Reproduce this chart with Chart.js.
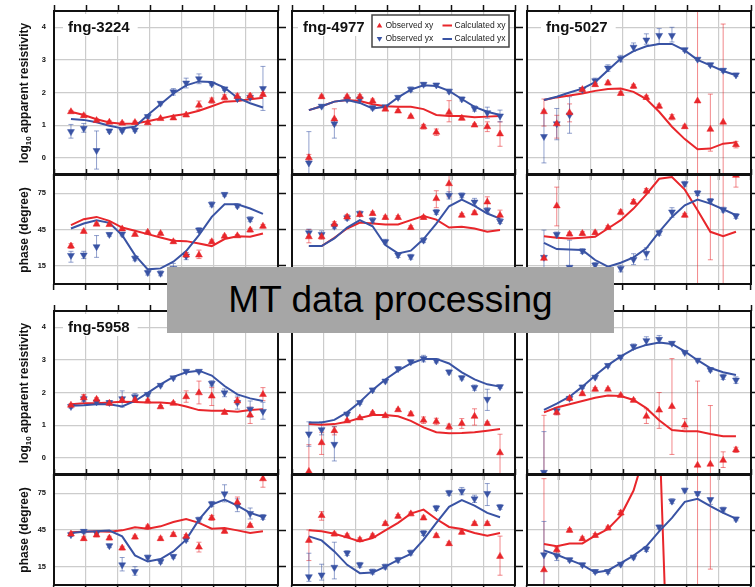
<!DOCTYPE html>
<html lang="en">
<head>
<meta charset="utf-8">
<title>MT data processing</title>
<script src="https://cdn.jsdelivr.net/npm/chart.js@4.4.1/dist/chart.umd.min.js"></script>
<style>
  html, body { margin: 0; padding: 0; background: #fff; }
  body { position: relative; width: 755px; height: 587px; overflow: hidden;
         font-family: "Liberation Sans", Arial, sans-serif; }
  canvas { position: absolute; }
  .ytitle { position: absolute; transform: translate(-50%, -50%) rotate(-90deg);
            font-size: 12px; font-weight: bold; color: #111; white-space: nowrap; line-height: 14px; }
  .ytitle sub { font-size: 8px; line-height: 0; }
  #banner { position: absolute; left: 167px; top: 267px; width: 447px; height: 66px;
            background: #a6a6a6; color: #000; font-size: 37px; line-height: 66px;
            text-align: center; z-index: 10; }
</style>
</head>
<body>
<div id="banner">MT data processing</div>
<script>
// log10 period of every sounding frequency, shared by all sites
const periods = [-2.47, -2.07, -1.67, -1.27, -0.87, -0.47, -0.07, 0.33, 0.73, 1.13, 1.53, 1.93, 2.33, 2.73, 3.13, 3.53];
const periodGrid = [-3, -2, -1, 0, 1, 2, 3, 4];
const rhoTicks = [0, 1, 2, 3, 4];
const phiTicks = [15, 45, 75];
const legendLabels = ['Observed xy', 'Observed yx', 'Calculated xy', 'Calculated yx'];

// errors: a number is a half width, a pair is [low, high]

// fng-3224
const rhoXY1 = [1.41, 1.29, 1.14, 1.09, 1.06, 1.08, 1.07, 1.20, 1.22, 1.31, 1.61, 1.75, 1.85, 1.88, 1.89, 1.94];
const rhoYX1 = [0.80, 0.90, 0.22, 0.82, 0.83, 0.85, 1.26, 1.67, 2.02, 2.29, 2.42, 2.26, 2.11, 1.81, 1.85, 2.12];
const rhoXYcalc1 = [1.41, 1.31, 1.18, 1.08, 1.04, 1.05, 1.12, 1.20, 1.29, 1.34, 1.44, 1.58, 1.72, 1.74, 1.79, 1.84];
const rhoYXcalc1 = [1.19, 1.16, 1.09, 0.98, 0.90, 0.95, 1.31, 1.64, 1.97, 2.22, 2.34, 2.32, 2.15, 1.84, 1.67, 1.54];
const rhoXYerr1 = [0.04, 0.05, 0.05, 0.04, 0.04, 0.04, 0.04, 0.04, 0.05, 0.05, 0.13, 0.08, 0.08, 0.08, 0.07, 0.06];
const rhoYXerr1 = [[0.6, 1.02], [0.78, 1.05], [-0.35, 0.82], 0.05, 0.04, 0.05, 0.05, 0.05, 0.1, 0.15, 0.15, 0.05, 0.05, 0.06, 0.06, [1.45, 2.8]];
const phiXY1 = [31.3, 43.4, 49.4, 49.1, 45.5, 40.9, 42.8, 41.7, 34.9, 23.9, 23.9, 34.9, 39.5, 39.8, 44.5, 47.7];
const phiYX1 = [23.6, 23.9, 30.8, 40.9, 41.2, 21.2, 9.4, 8.8, 12.9, 23.1, 44.5, 65.8, 74.0, 64.5, 53.5, null];
const phiXYcalc1 = [48.6, 53.5, 55.4, 52.1, 46.6, 43.9, 41.2, 38.4, 35.7, 35.4, 33.5, 31.3, 37.1, 39.5, 39.0, 41.7];
const phiYXcalc1 = [45.8, 49.9, 52.7, 50.5, 40.3, 23.9, 12.1, 12.9, 18.4, 27.2, 40.3, 55.4, 65.8, 65.8, 62.3, 57.9];
const phiXYerr1 = [2, 1, 1, 1, 1, 1, 1, 1, 1.5, 2, [21, 28], 1.5, 1, 1, 1.5, 1.5];
const phiYXerr1 = [[18, 27], [21, 27], [22, 40], 1.5, 1.5, 2, 2, 2, [10, 17], 3, 2, 2, 1.5, 1.5, 2, 0];

// fng-4977
const rhoXY2 = [0.0, 1.87, 1.19, 1.87, 1.87, 1.74, 1.49, 1.43, 1.26, 0.95, 0.78, 1.39, 1.21, 1.0, 0.95, 0.73];
const rhoYX2 = [-0.16, 1.58, 1.04, 1.79, 1.80, 1.53, 1.56, 1.85, 2.10, 2.25, 2.23, 2.04, 1.80, 1.51, 1.38, 1.28];
const rhoXYcalc2 = [1.46, 1.58, 1.72, 1.77, 1.74, 1.64, 1.58, 1.56, 1.56, 1.49, 1.31, 1.28, 1.28, 1.24, 1.26, 1.28];
const rhoYXcalc2 = [1.46, 1.58, 1.72, 1.77, 1.68, 1.51, 1.56, 1.85, 2.09, 2.22, 2.20, 2.05, 1.80, 1.56, 1.41, 1.31];
const rhoXYerr2 = [0.1, 0.05, [1.0, 1.5], 0.05, 0.06, 0.06, 0.04, 0.04, 0.04, 0.07, 0.1, [1.1, 1.75], 0.05, 0.04, 0.15, [0.35, 1.1]];
const rhoYXerr2 = [[-0.6, 0.8], 0.05, [0.6, 1.2], 0.05, 0.06, 0.06, 0.05, 0.06, 0.07, 0.06, 0.05, 0.06, 0.06, 0.08, 0.17, 0.18];
const phiXY2 = [39.0, 39.0, 49.4, 55.4, 57.3, 58.2, 54.9, 54.9, 46.6, 54.9, 70.5, 82.8, 56.8, 58.7, 67.7, 56.8];
const phiYX2 = [42.3, 40.9, 47.7, 54.6, 58.2, 52.7, 34.9, 23.9, 22.5, 36.2, 59.5, 73.2, 73.2, 67.7, 60.9, 51.9];
const phiXYcalc2 = [31.3, 31.3, 38.2, 45.8, 50.8, 49.9, 49.1, 49.1, 52.7, 56.2, 53.2, 46.6, 47.2, 45.8, 43.1, 44.5];
const phiYXcalc2 = [31.3, 31.3, 37.6, 46.6, 52.7, 47.7, 32.1, 25.3, 27.5, 37.1, 49.9, 64.2, 69.7, 64.5, 58.2, 54.0];
const phiXYerr2 = [[34, 45], 2, 2, 2, 1.5, 1.5, 1.5, 1.5, 1.5, 1.5, [63, 77], [72, 90], 1.5, 1.5, [61, 72], [52, 61]];
const phiYXerr2 = [3, 3, 2, 2, 2, 2, 2, 2, 2, 2, 2, 3, 2, 3, 2, 2];

// fng-5027
const rhoXY3 = [1.41, 1.04, 1.38, 2.09, 2.24, 2.29, 1.97, 2.19, 1.85, 1.58, 1.24, 0.95, 1.74, 0.87, 1.09, 0.40];
const rhoYX3 = [0.65, 1.04, 1.31, 2.09, 2.36, 2.75, 3.04, 3.39, 3.61, 3.75, 3.75, 3.31, 3.02, 2.85, 2.68, 2.54];
const rhoXYcalc3 = [1.77, 1.85, 1.91, 1.97, 2.05, 2.11, 2.12, 2.02, 1.80, 1.41, 0.95, 0.57, 0.26, 0.28, 0.43, 0.47];
const rhoYXcalc3 = [1.77, 1.87, 2.00, 2.12, 2.32, 2.68, 3.04, 3.27, 3.42, 3.49, 3.49, 3.29, 3.00, 2.83, 2.66, 2.53];
const rhoXYerr3 = [[0.97, 1.8], [0.6, 1.3], [1.1, 1.65], 0.05, 0.05, 0.06, 0.05, 0.06, 0.06, 0.06, 0.08, 0.05, [-1, 5], [0.2, 1.95], [-1, 4.1], [0.3, 0.5]];
const rhoYXerr3 = [[-0.16, 1.46], [0.55, 1.51], [0.75, 1.87], 0.06, 0.08, 0.1, 0.1, 0.13, [3.48, 3.8], [3.5, 3.96], [3.55, 4.0], 0.05, 0.04, 0.05, 0.06, 0.05];
const phiXY3 = [21.2, 64.5, 41.2, 41.7, 42.3, 46.6, 59.2, 67.7, 76.8, null, null, 56.8, null, null, null, 89.7];
const phiYX3 = [22.0, 40.9, 13.8, 27.2, 15.7, null, 12.9, 20.3, 25.3, 42.3, 59.5, 82.8, 75.1, 68.6, 61.4, 56.2];
const phiXYcalc3 = [39.5, 38.2, 37.6, 38.2, 39.0, 45.8, 52.7, 62.3, 74.0, 86.9, 88.3, 77.9, 60.9, 43.1, 39.5, 43.1];
const phiYXcalc3 = [34.0, 28.8, 28.5, 28.0, 19.8, 14.3, 17.6, 22.0, 29.4, 43.1, 55.4, 65.0, 69.7, 66.4, 61.7, 56.8];
const phiXYerr3 = [0, [48, 80], 1.5, 1.5, 1.5, 1.5, 2, 2, 2, 0, 0, 1.5, [-50, 150], [20, 120], [-50, 150], [80, 95]];
const phiYXerr3 = [[11.6, 44.5], 2, [13.8, 36.2], 2, 2, 0, [10, 15.5], [16, 25], [20, 30], 2, [55, 63], 2, 2, 2, 2, 2];

// fng-5958
const rhoXY4 = [1.61, 1.84, 1.79, 1.67, 1.77, 1.77, 1.74, 1.56, 1.67, 1.87, 1.99, 1.89, 1.39, 1.74, 1.31, 1.94];
const rhoYX4 = [1.57, 1.81, 1.71, 1.69, 1.81, 1.87, 1.94, 2.22, 2.45, 2.65, 2.65, 2.28, 1.99, 1.69, 1.49, 1.42];
const rhoXYcalc4 = [1.64, 1.67, 1.67, 1.69, 1.72, 1.71, 1.69, 1.69, 1.66, 1.57, 1.46, 1.44, 1.44, 1.41, 1.46, 1.49];
const rhoYXcalc4 = [1.59, 1.61, 1.64, 1.64, 1.57, 1.74, 1.99, 2.25, 2.48, 2.62, 2.67, 2.52, 2.20, 1.94, 1.82, 1.74];
const rhoXYerr4 = [0.05, 0.1, 0.05, 0.06, 0.05, 0.05, 0.05, 0.04, 0.05, [1.7, 2.05], [1.65, 2.35], [1.6, 2.15], 0.05, 0.1, [1.05, 1.55], [1.75, 2.15]];
const rhoYXerr4 = [0.05, 0.08, 0.05, 0.06, [1.55, 2.05], 0.1, 0.05, 0.04, 0.04, 0.04, 0.04, 0.08, 0.12, 0.2, 0.25, [1.18, 1.7]];
const phiXY4 = [41.7, 37.9, 40.9, 38.4, 30.2, 39.2, 47.5, 37.9, 41.2, 39.8, 31.0, 54.9, 43.9, 67.7, 48.6, 86.9];
const phiYX4 = [41.2, 43.9, 42.5, 32.1, 16.5, 11.0, 22.8, 19.2, 23.4, 37.1, 53.5, 66.4, 74.6, 65.0, 58.4, 55.7];
const phiXYcalc4 = [43.1, 43.6, 43.9, 43.6, 44.7, 47.2, 46.1, 48.0, 51.6, 54.0, 50.8, 46.1, 46.6, 44.7, 42.5, 43.9];
const phiYXcalc4 = [42.5, 43.6, 43.9, 44.5, 39.8, 24.2, 19.2, 21.2, 27.5, 37.1, 53.5, 65.8, 69.9, 65.0, 59.0, 55.7];
const phiXYerr4 = [1.5, 1.5, 1.5, 1.5, 1.5, 1.5, 1.5, 1.5, 1.5, 1.5, [27, 35], 2, 1.5, [65, 72], 1.5, [80, 92]];
const phiYXerr4 = [1.5, 1.5, 1.5, 1.5, [11.5, 22.5], [8, 15], 1.5, 1.5, 1.5, 1.5, 2, 2, [68, 82], [60, 70.5], [54, 63], 2];

// site 5
const rhoXY5 = [-0.42, 0.46, 0.83, 1.13, 1.22, 1.37, 1.29, 1.47, 1.34, 1.15, 1.11, 0.95, 1.05, 1.27, 1.05, 0.15];
const rhoYX5 = [0.73, 0.86, 0.41, 1.34, 1.69, 2.08, 2.35, 2.73, 2.94, 3.04, 2.97, 2.63, 2.45, 2.15, 1.79, 2.18];
const rhoXYcalc5 = [1.03, 1.01, 1.03, 1.10, 1.22, 1.31, 1.31, 1.27, 1.13, 0.93, 0.78, 0.75, 0.76, 0.78, 0.83, 0.88];
const rhoYXcalc5 = [1.08, 1.08, 1.16, 1.39, 1.71, 2.08, 2.40, 2.67, 2.89, 3.03, 3.03, 2.89, 2.62, 2.40, 2.25, 2.18];
const rhoXYerr5 = [[-0.6, 0.4], [0.1, 0.78], [0.7, 0.95], 0.05, 0.04, 0.04, 0.04, 0.04, 0.06, 0.1, 0.1, 0.08, 0.15, [1.0, 1.5], 0.05, [-0.5, 0.72]];
const rhoYXerr5 = [[0.35, 1.1], [0.7, 1.1], [-0.1, 0.95], 0.05, 0.05, 0.05, 0.05, 0.06, 0.06, 0.1, 0.06, 0.06, 0.06, 0.08, [1.45, 2.1], 0.05];
const phiXY5 = [36.5, 56.8, 41.7, 40.3, 37.1, 40.3, 50.2, 56.2, 58.2, 54.9, 40.3, 33.8, 43.1, 50.2, 50.2, 23.4];
const phiYX5 = [6.8, 8.2, 14.5, 26.1, 16.5, 11.0, 15.1, 20.6, 26.6, 42.5, 63.1, 75.4, 76.8, 70.5, 74.9, 63.9];
const phiXYcalc5 = [44.7, 43.9, 42.0, 39.0, 35.7, 38.4, 44.7, 50.8, 58.4, 61.7, 54.0, 47.5, 45.8, 42.5, 40.3, 42.5];
const phiYXcalc5 = [39.8, 36.5, 27.5, 16.5, 9.7, 10.2, 15.1, 20.6, 25.5, 37.1, 50.8, 63.9, 69.4, 65.0, 59.0, 55.4];
const phiXYerr5 = [[20, 45], [53, 60], 1.5, 1.5, 1.5, 1.5, 1.5, 1.5, 1.5, 1.5, 1.5, 1.5, 1.5, 1.5, 1.5, [8, 40]];
const phiYXerr5 = [[3, 26], [4, 17], [5, 35], 2, 2, 2, 2, 2, 2, 2, 2, 2, 3, 3, [65, 83], 2];

// site 6
const rhoXY6 = [null, 1.39, 1.82, 1.96, 2.10, 2.10, 1.91, 1.76, 1.27, 1.46, 1.57, 1.0, -0.23, -0.2, -0.08, 0.24];
const rhoYX6 = [-0.45, 1.44, 1.82, 2.17, 2.47, 2.83, 3.09, 3.41, 3.59, 3.63, 3.51, 3.23, 2.99, 2.70, 2.48, 2.38];
const rhoXYcalc6 = [1.39, 1.54, 1.64, 1.74, 1.84, 1.91, 1.89, 1.77, 1.52, 1.15, 0.85, 0.81, 0.81, 0.73, 0.66, 0.66];
const rhoYXcalc6 = [1.47, 1.66, 1.87, 2.18, 2.52, 2.84, 3.11, 3.33, 3.46, 3.53, 3.49, 3.26, 2.99, 2.75, 2.62, 2.54];
const rhoXYerr6 = [[-0.6, 1.3], 0.08, 0.06, 0.05, 0.05, 0.04, 0.04, 0.05, [1.05, 1.5], [0.9, 2.0], [0.1, 3.04], [0.88, 1.2], [-0.6, 2.35], [-0.6, 1.6], [-0.3, 0.18], 0.08];
const rhoYXerr6 = [[-0.6, 0.8], 0.1, 0.04, 0.05, 0.05, 0.05, 0.05, 0.08, 0.12, 0.12, 0.05, 0.04, 0.05, 0.06, 0.08, 0.1];
const phiXY6 = [12.4, 28.8, 44.7, 37.9, 40.6, 46.6, 59.0, null, null, null, null, null, null, null, null, null];
const phiYX6 = [24.7, 23.9, 20.6, 16.5, 11.0, 11.0, 17.0, 22.8, 29.4, 47.5, 68.6, 77.6, 74.9, 69.9, 61.7, 54.0];
const phiXYcalc6 = [33.5, 31.8, 34.0, 34.0, 40.3, 45.8, 56.8, 77.3, 112, 131, -176, null, null, null, null, null];
const phiYXcalc6 = [28.3, 24.7, 20.6, 16.5, 10.2, 11.9, 17.9, 24.0, 31.6, 43.9, 54.9, 68.0, 70.5, 64.5, 59.0, 54.3];
const phiXYerr6 = [[-5, 87], 2, 1.5, 1.5, 1.5, 1.5, 2, 0, 0, 0, 0, 0, [-50, 150], [13, 120], 0, 0];
const phiYXerr6 = [[-5, 52], [20, 28], 1.5, 1.5, 1.5, 1.5, 1.5, 1.5, 2, 1.5, 2, 1.5, 1.5, [66, 71], 2, 1.5];

const RED = '#e8262b';
const BLUE = '#3953a4';
const RED_ERR = 'rgba(232, 38, 43, 0.55)';
const BLUE_ERR = 'rgba(57, 83, 164, 0.55)';
const GRID = '#cccccc';
const INK = '#111111';
const FONT = '"Liberation Sans", Arial, sans-serif';

// panel geometry on the page
const colLeft = [54, 292, 527];
const colWidth = [224, 223, 224];
const rhoTop = [11, 311];
const rhoHeight = 163;
const phiTop = [175, 475];
const phiHeight = [109, 110];

const sites = [
  { name: 'fng-3224', col: 0, row: 0, labelX: 68,
    rho: [rhoXY1, rhoYX1, rhoXYcalc1, rhoYXcalc1, rhoXYerr1, rhoYXerr1],
    phi: [phiXY1, phiYX1, phiXYcalc1, phiYXcalc1, phiXYerr1, phiYXerr1] },
  { name: 'fng-4977', col: 1, row: 0, labelX: 303, legend: true,
    rho: [rhoXY2, rhoYX2, rhoXYcalc2, rhoYXcalc2, rhoXYerr2, rhoYXerr2],
    phi: [phiXY2, phiYX2, phiXYcalc2, phiYXcalc2, phiXYerr2, phiYXerr2] },
  { name: 'fng-5027', col: 2, row: 0, labelX: 546,
    rho: [rhoXY3, rhoYX3, rhoXYcalc3, rhoYXcalc3, rhoXYerr3, rhoYXerr3],
    phi: [phiXY3, phiYX3, phiXYcalc3, phiYXcalc3, phiXYerr3, phiYXerr3] },
  { name: 'fng-5958', col: 0, row: 1, labelX: 68,
    rho: [rhoXY4, rhoYX4, rhoXYcalc4, rhoYXcalc4, rhoXYerr4, rhoYXerr4],
    phi: [phiXY4, phiYX4, phiXYcalc4, phiYXcalc4, phiXYerr4, phiYXerr4] },
  { name: null, col: 1, row: 1,
    rho: [rhoXY5, rhoYX5, rhoXYcalc5, rhoYXcalc5, rhoXYerr5, rhoYXerr5],
    phi: [phiXY5, phiYX5, phiXYcalc5, phiYXcalc5, phiXYerr5, phiYXerr5] },
  { name: null, col: 2, row: 1,
    rho: [rhoXY6, rhoYX6, rhoXYcalc6, rhoYXcalc6, rhoXYerr6, rhoYXerr6],
    phi: [phiXY6, phiYX6, phiXYcalc6, phiYXcalc6, phiXYerr6, phiYXerr6] }
];

function points(values) {
  return periods.map((p, i) => ({ x: p, y: values[i] }));
}

function triangle(ctx, cx, cy, r, down) {
  const s = down ? -1 : 1;
  ctx.beginPath();
  ctx.moveTo(cx, cy - s * r);
  ctx.lineTo(cx + 0.866 * r, cy + s * 0.5 * r);
  ctx.lineTo(cx - 0.866 * r, cy + s * 0.5 * r);
  ctx.closePath();
  ctx.fill();
}

// vertical error bars with caps, under the markers
const errorBars = {
  id: 'errorBars',
  beforeDatasetsDraw(chart) {
    const { ctx, chartArea: a, scales } = chart;
    ctx.save();
    ctx.beginPath();
    ctx.rect(a.left, a.top, a.width, a.height);
    ctx.clip();
    ctx.lineWidth = 1;
    chart.data.datasets.forEach(ds => {
      if (!ds.errors) return;
      ctx.strokeStyle = ds.errColor;
      ds.errors.forEach((e, i) => {
        if (!e) return;
        const v = ds.data[i].y;
        let lo, hi;
        if (Array.isArray(e)) {
          [lo, hi] = e;
        } else {
          if (v == null) return;
          lo = v - e;
          hi = v + e;
        }
        const px = scales.x.getPixelForValue(ds.data[i].x);
        const p1 = scales.y.getPixelForValue(lo);
        const p2 = scales.y.getPixelForValue(hi);
        ctx.beginPath();
        ctx.moveTo(px, p1); ctx.lineTo(px, p2);
        ctx.moveTo(px - 2.5, p1); ctx.lineTo(px + 2.5, p1);
        ctx.moveTo(px - 2.5, p2); ctx.lineTo(px + 2.5, p2);
        ctx.stroke();
      });
    });
    ctx.restore();
  }
};

// station name, legend, frame and (left column only) the y tick labels
function panelDecor(name, labelDx, legend, tickLabels) {
  return {
    id: 'panelDecor',
    beforeDatasetsDraw(chart) {
      if (!name) return;
      const { ctx, chartArea: a } = chart;
      ctx.save();
      ctx.font = 'bold 15px ' + FONT;
      const w = ctx.measureText(name).width;
      ctx.fillStyle = '#fff';
      ctx.fillRect(a.left + labelDx - 5, a.top + 3, w + 13, 22);
      ctx.fillStyle = INK;
      ctx.textBaseline = 'alphabetic';
      ctx.fillText(name, a.left + labelDx, a.top + 20.5);
      ctx.restore();
    },
    afterDatasetsDraw(chart) {
      if (!legend) return;
      const { ctx, chartArea: a } = chart;
      const x0 = a.left + 80, y0 = a.top + 4;
      ctx.save();
      ctx.fillStyle = '#fff';
      ctx.fillRect(x0, y0, 137, 32);
      ctx.strokeStyle = '#444';
      ctx.lineWidth = 1.5;
      ctx.strokeRect(x0, y0, 137, 32);
      ctx.font = '8.5px ' + FONT;
      ctx.textBaseline = 'middle';
      [[RED, 10.5, false, 0, 2], [BLUE, 24, true, 1, 3]].forEach(([color, dy, down, obs, calc]) => {
        const y = y0 + dy;
        ctx.fillStyle = color;
        triangle(ctx, x0 + 7.5, y + (down ? -0.5 : 0.5), 3.2, down);
        ctx.strokeStyle = color;
        ctx.lineWidth = 2;
        ctx.beginPath();
        ctx.moveTo(x0 + 70.5, y); ctx.lineTo(x0 + 80, y);
        ctx.stroke();
        ctx.fillStyle = '#222';
        ctx.fillText(legendLabels[obs], x0 + 13.5, y);
        ctx.fillText(legendLabels[calc], x0 + 82.5, y);
      });
      ctx.restore();
    },
    afterDraw(chart) {
      const { ctx, chartArea: a, scales } = chart;
      ctx.save();
      ctx.strokeStyle = INK;
      ctx.lineWidth = 2;
      ctx.strokeRect(a.left, a.top, a.width, a.height);
      if (tickLabels) {
        ctx.font = 'bold 7.5px ' + FONT;
        ctx.fillStyle = INK;
        ctx.textAlign = 'right';
        ctx.textBaseline = 'middle';
        tickLabels.forEach(v => ctx.fillText(String(v), a.left - 8, scales.y.getPixelForValue(v)));
      }
      ctx.restore();
    }
  };
}

function drawPanel(site, kind) {
  const isRho = kind === 'rho';
  const left = colLeft[site.col];
  const width = colWidth[site.col];
  const top = isRho ? rhoTop[site.row] : phiTop[site.row];
  const height = isRho ? rhoHeight : phiHeight[site.row];
  const labelled = site.col === 0;
  const padL = labelled ? left : 10, padR = 12, padT = 8, padB = 8;

  const canvas = document.createElement('canvas');
  canvas.width = width + padL + padR;
  canvas.height = height + padT + padB;
  canvas.style.left = (left - padL) + 'px';
  canvas.style.top = (top - padT) + 'px';
  document.body.appendChild(canvas);

  const [xy, yx, xyCalc, yxCalc, xyErr, yxErr] = isRho ? site.rho : site.phi;
  const yMin = isRho ? -0.5 : 0;
  const yMax = isRho ? 4.5 : 90;
  const yTicks = isRho ? rhoTicks : phiTicks;

  const xTicks = s => { s.ticks = periodGrid.map(v => ({ value: v })); };
  const yTickSet = s => { s.ticks = yTicks.map(v => ({ value: v })); };

  new Chart(canvas, {
    type: 'line',
    data: {
      datasets: [
        { data: points(xy), showLine: false, pointStyle: 'triangle', pointRotation: 0,
          pointRadius: 4, pointBackgroundColor: RED, pointBorderColor: RED, pointBorderWidth: 0.5,
          errors: xyErr, errColor: RED_ERR },
        { data: points(yx), showLine: false, pointStyle: 'triangle', pointRotation: 180,
          pointRadius: 4, pointBackgroundColor: BLUE, pointBorderColor: BLUE, pointBorderWidth: 0.5,
          errors: yxErr, errColor: BLUE_ERR },
        { data: points(yxCalc), borderColor: BLUE, borderWidth: 2, pointRadius: 0, tension: 0 },
        { data: points(xyCalc), borderColor: RED, borderWidth: 2, pointRadius: 0, tension: 0 }
      ]
    },
    options: {
      responsive: false,
      animation: false,
      events: [],
      layout: { padding: 0 },
      plugins: { legend: { display: false }, tooltip: { enabled: false } },
      scales: {
        x: {
          type: 'linear', axis: 'x', position: 'bottom', min: -3, max: 4,
          afterBuildTicks: xTicks,
          ticks: { display: false },
          grid: { color: GRID, lineWidth: 1.2, tickColor: INK, tickLength: 6, tickWidth: 1.5 },
          border: { display: false },
          afterFit: s => { s.height = padB; }
        },
        xTop: {
          type: 'linear', axis: 'x', position: 'top', min: -3, max: 4,
          afterBuildTicks: xTicks,
          ticks: { display: false },
          grid: { drawOnChartArea: false, tickColor: INK, tickLength: 6, tickWidth: 1.5 },
          border: { display: false },
          afterFit: s => { s.height = padT; }
        },
        y: {
          type: 'linear', axis: 'y', position: 'left', min: yMin, max: yMax,
          afterBuildTicks: yTickSet,
          ticks: { display: false },
          grid: { color: GRID, lineWidth: 1.2, drawTicks: false },
          border: { display: false },
          afterFit: s => { s.width = padL; }
        },
        yRight: {
          type: 'linear', axis: 'y', position: 'right', min: yMin, max: yMax,
          afterBuildTicks: yTickSet,
          ticks: { display: false },
          grid: { drawOnChartArea: false, tickColor: INK, tickLength: 8, tickWidth: 1.5 },
          border: { display: false },
          afterFit: s => { s.width = padR; }
        }
      }
    },
    plugins: [errorBars, panelDecor(isRho ? site.name : null, (site.labelX || left) - left,
                                    isRho && site.legend, labelled ? yTicks : null)]
  });
}

sites.forEach(site => {
  drawPanel(site, 'rho');
  drawPanel(site, 'phi');
});

// axis titles of the left column
const titles = [
  ['log<sub>10</sub> apparent resistivity', rhoTop, rhoHeight],
  ['phase (degree)', phiTop, null]
];
titles.forEach(([html, tops, h]) => {
  tops.forEach((t, row) => {
    const div = document.createElement('div');
    div.className = 'ytitle';
    div.innerHTML = html;
    div.style.left = '24px';
    div.style.top = (t + (h || phiHeight[row]) / 2) + 'px';
    document.body.appendChild(div);
  });
});
</script>
</body>
</html>
